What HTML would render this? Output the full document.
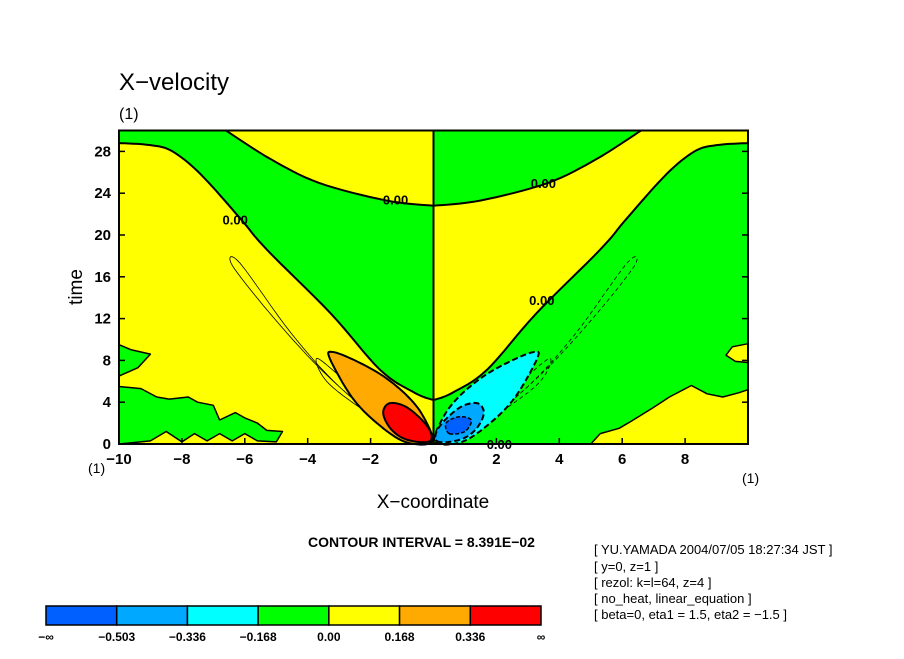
<!DOCTYPE html>
<html><head><meta charset="utf-8"><style>
body{margin:0;background:#fff;width:904px;height:654px;overflow:hidden}
text{font-family:"Liberation Sans",sans-serif}
</style></head><body>
<svg id="c" width="904" height="654" xmlns="http://www.w3.org/2000/svg">
<text x="119" y="90" font-size="24">X−velocity</text>
<text x="119" y="119" font-size="16">(1)</text>
<g id="plot"></g>
<text x="433" y="508" font-size="19" text-anchor="middle">X−coordinate</text>
<text transform="translate(82,287) rotate(-90)" font-size="19" text-anchor="middle">time</text>
<text x="88" y="473" font-size="14">(1)</text>
<text x="742" y="483" font-size="14">(1)</text>
<text x="308" y="547" font-size="14" font-weight="bold">CONTOUR INTERVAL = 8.391E−02</text>
<g font-size="13">
<text x="594" y="554" font-family="Liberation Mono">[ YU.YAMADA 2004/07/05 18:27:34 JST ]</text>
<text x="594" y="571" font-family="Liberation Mono">[ y=0, z=1 ]</text>
<text x="594" y="587" font-family="Liberation Mono">[ rezol: k=l=64, z=4 ]</text>
<text x="594" y="603" font-family="Liberation Mono">[ no_heat, linear_equation ]</text>
<text x="594" y="619" font-family="Liberation Mono">[ beta=0, eta1 = 1.5, eta2 = −1.5 ]</text>
</g>
<g id="cbar"></g>
</svg>
<script>
const xTicks=[-10,-8,-6,-4,-2,0,2,4,6,8];
const yTicks=[0,4,8,12,16,20,24,28];
const levels=["−∞","−0.503","−0.336","−0.168","0.00","0.168","0.336","∞"];
const levelColors=["#0060ff","#00a8ff","#00ffff","#00ff00","#ffff00","#ffaa00","#ff0000"];
// zero contour (|x|, t)
const zeroDiag=[[0,4.2],[0.6,4.9],[1.7,7.1],[3.27,12.5],[5.3,18.6],[6.15,21.6],[7.4,25.8],[8.3,28],[9,28.6],[10,28.8]];
const zeroTop=[[0,22.8],[1.5,23.3],[3.65,25],[5.2,27.3],[6.6,30]];
const orangeShape=[[0.05,0.2],[0.9,0.2],[1.8,2],[2.6,4.5],[3.3,8.2],[3.2,8.8],[2.5,8],[1.6,6.5],[0.8,4.5],[0.3,2.5]];
const redShape=[[0.1,0.3],[0.5,0.2],[1,0.6],[1.4,1.6],[1.6,3],[1.4,3.9],[0.9,3.6],[0.4,2.4],[0.1,1.2]];
const darkShape=[[0.5,1],[1,1.2],[1.2,2.3],[0.8,2.6],[0.4,2]];
const thinOuter=[[0.1,0.3],[1.5,2],[3,5.5],[4.5,10.5],[6.15,17.3],[6.4,17.1],[5.2,12.5],[3.6,7.2],[2,3],[0.6,0.4]];
const thinInner=[[0.1,0.5],[1.5,3],[2.7,5.8],[3.7,8.2],[3.4,6],[2.2,3.2],[0.8,0.8]];
const leftNoise=[[-10,0],[-10,9.5],[-9.6,9],[-9.0,8.6],[-9.4,7.3],[-10,6.5],[-10,5.5],[-9.3,5.3],[-8.8,4.5],[-8.4,4.3],[-7.8,4.5],[-7.5,4],[-7,3.7],[-6.8,2.3],[-6.3,3],[-6,2.5],[-5.6,2],[-5.3,1.3],[-4.8,1.2],[-5,0.2],[-5.6,0.3],[-6,1],[-6.4,0.3],[-6.8,1],[-7.2,0.3],[-7.6,1],[-8,0.2],[-8.5,1.2],[-9,0.3]];
const rightNoise=[[5,0],[5.3,1],[5.9,1.5],[6.3,2.2],[7,3.5],[7.5,4.5],[8.2,5.6],[8.7,4.8],[9.2,4.5],[9.7,4.9],[10,5.2],[10,0]];
const rightNoise2=[[9.3,8.5],[9.5,9.3],[10,9.6],[10,7.8],[9.6,7.9]];
const X=x=>119+(x+10)*31.45, Y=t=>444-t*10.45;
const NS="http://www.w3.org/2000/svg";
const plot=document.getElementById('plot');
function mk(tag,attrs,parent){const e=document.createElementNS(NS,tag);for(const k in attrs)e.setAttribute(k,attrs[k]);(parent||plot).appendChild(e);return e;}
// catmull-rom densify for smooth rendering
function smooth(a){if(a.length<3)return a;const o=[];for(let i=0;i<a.length-1;i++){const p0=a[Math.max(0,i-1)],p1=a[i],p2=a[i+1],p3=a[Math.min(a.length-1,i+2)];
for(let s=0;s<8;s++){const t=s/8,t2=t*t,t3=t2*t;o.push([0,1].map(k=>0.5*((2*p1[k])+(-p0[k]+p2[k])*t+(2*p0[k]-5*p1[k]+4*p2[k]-p3[k])*t2+(-p0[k]+3*p1[k]-3*p2[k]+p3[k])*t3)));}}
o.push(a[a.length-1]);return o;}
function smoothClosed(a){const n=a.length,o=[];for(let i=0;i<n;i++){const p0=a[(i-1+n)%n],p1=a[i],p2=a[(i+1)%n],p3=a[(i+2)%n];
for(let s=0;s<8;s++){const t=s/8,t2=t*t,t3=t2*t;o.push([0,1].map(k=>0.5*((2*p1[k])+(-p0[k]+p2[k])*t+(2*p0[k]-5*p1[k]+4*p2[k]-p3[k])*t2+(-p0[k]+3*p1[k]-3*p2[k]+p3[k])*t3)));}}return o;}
const pts=a=>a.map(p=>X(p[0]).toFixed(1)+','+Y(p[1]).toFixed(1)).join(' ');
const neg=a=>a.map(p=>[-p[0],p[1]]);
function poly(a,fill,name,stroke,sw,dash){const e=mk('polygon',{points:pts(a),fill:fill,stroke:stroke||'none','stroke-width':sw||0,'stroke-linejoin':'round'});if(dash)e.setAttribute('stroke-dasharray',dash);

return e;}
const D=smooth(zeroDiag), T=smooth(zeroTop);
mk('rect',{x:X(-10),y:Y(30),width:X(10)-X(-10),height:Y(0)-Y(30),fill:'#ffff00'});
poly([[-10,30]].concat(neg(T).slice().reverse()).concat(neg(D)),'#00ff00','green-region-left','#000',2);
poly([[0,30]].concat(T.slice().reverse()),'#00ff00','green-region-right-top','#000',2);
poly([[0,0]].concat(D,[[10,0]]),'#00ff00','green-region-right-bottom','#000',2);
poly(leftNoise,'#00ff00','noise-green-left','#000',1.5);
poly(rightNoise,'#ffff00','noise-yellow-right','#000',1.5);
poly(rightNoise2,'#ffff00','noise-yellow-right-2','#000',1.5);
poly(smoothClosed(neg(thinOuter)),'none','thin-contour-left','#000',0.8);
poly(smoothClosed(thinOuter),'none','thin-contour-right','#000',0.8,'4,3');
poly(smoothClosed(neg(thinInner)),'none','thin-contour-left-inner','#000',0.8);
poly(smoothClosed(thinInner),'none','thin-contour-right-inner','#000',0.8,'4,3');
poly(smoothClosed(neg(orangeShape)),levelColors[5],'orange-region','#000',2);
poly(smoothClosed(orangeShape),levelColors[2],'cyan-region','#000',2,'6,3');
poly(smoothClosed(neg(redShape)),levelColors[6],'red-region','#000',2);
poly(smoothClosed(redShape),levelColors[1],'light-blue-region','#000',2,'6,3');
poly(smoothClosed(darkShape),levelColors[0],'blue-region','#000',1.5,'4,2');
mk('line',{x1:X(0),y1:Y(0),x2:X(0),y2:Y(30),stroke:'#000','stroke-width':2});
[[-6.2,21.5],[-1.1,23.4],[3.6,25],[3.55,13.8],[2.2,0]].forEach(p=>{const t=mk('text',{x:X(p[0])-16,y:Y(p[1])+5,'font-size':13,'font-weight':'bold'});t.textContent='0.00';

});
mk('rect',{x:X(-10),y:Y(30),width:X(10)-X(-10),height:Y(0)-Y(30),fill:'none',stroke:'#000','stroke-width':2});
xTicks.forEach(v=>{mk('line',{x1:X(v),y1:Y(0),x2:X(v),y2:Y(0)-6,stroke:'#000','stroke-width':1.5});
const t=mk('text',{x:X(v),y:464,'font-size':15,'font-weight':'bold','text-anchor':'middle'});t.textContent=v<0?'−'+(-v):v;

});
yTicks.forEach(v=>{mk('line',{x1:X(-10),y1:Y(v),x2:X(-10)+6,y2:Y(v),stroke:'#000','stroke-width':1.5});
mk('line',{x1:X(10),y1:Y(v),x2:X(10)-6,y2:Y(v),stroke:'#000','stroke-width':1.5});
const t=mk('text',{x:111,y:Y(v)+5,'font-size':15,'font-weight':'bold','text-anchor':'end'});t.textContent=v;

});
const cb=document.getElementById('cbar');
const cw=(541-46)/levelColors.length;
levelColors.forEach((c,i)=>{const r=mk('rect',{x:46+i*cw,y:606,width:cw,height:19,fill:c,stroke:'#000','stroke-width':1.5},cb);

});
levels.forEach((l,i)=>{const t=mk('text',{x:46+i*cw,y:641,'font-size':12,'font-weight':'bold','text-anchor':'middle'},cb);t.textContent=l;

});
</script>
</body></html>
